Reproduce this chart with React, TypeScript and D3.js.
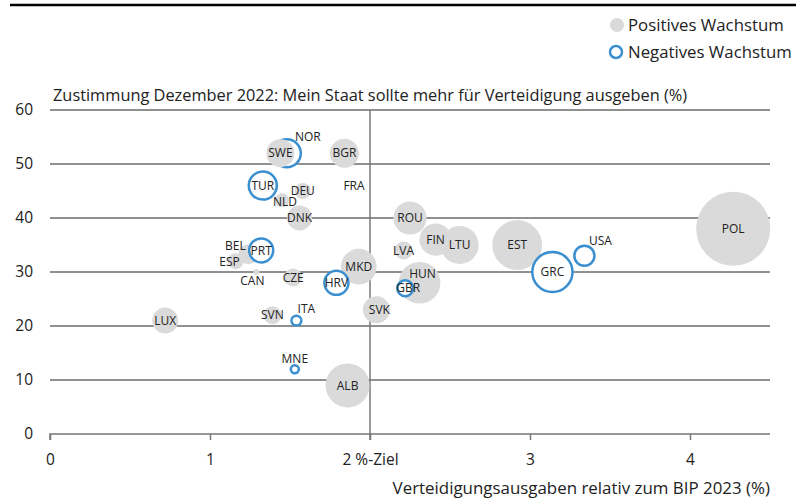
import { useEffect, useRef } from "react";
import * as d3 from "d3";

// Länder, Verteidigungsausgaben (% BIP 2023), Zustimmung (%), Wachstum (Betrag), negativ?
const countries = ["LUX", "CAN", "ESP", "BEL", "PRT", "SVN", "ITA", "MNE", "CZE", "NLD", "DEU", "DNK", "TUR", "NOR", "SWE", "BGR", "FRA", "ALB", "MKD", "HRV", "SVK", "ROU", "LVA", "HUN", "GBR", "FIN", "LTU", "EST", "GRC", "USA", "POL"];
const defenceSpending = [0.72, 1.29, 1.16, 1.24, 1.32, 1.39, 1.54, 1.53, 1.52, 1.45, 1.58, 1.56, 1.33, 1.48, 1.44, 1.84, 1.9, 1.86, 1.93, 1.79, 2.04, 2.25, 2.21, 2.31, 2.22, 2.41, 2.56, 2.92, 3.14, 3.34, 4.27];
const approval = [21, 30, 32, 33.3, 34, 22, 21, 12, 29, 43.3, 45, 40, 46, 52, 52, 52, 46, 9, 31, 28, 23, 40, 34, 28, 27, 36, 35, 35, 30, 33, 38];
const growth = [11.7, 0.6, 4.4, 7, 10, 5.6, 1.7, 1.1, 5.6, 3.4, 4.4, 10.8, 13.6, 13.6, 13.6, 14.6, 0, 33.5, 22, 10, 12.6, 19, 5.6, 30, 4.4, 18, 25, 43, 28, 7, 95];
const negative = [false, false, false, false, true, false, true, true, false, false, false, false, true, true, false, false, false, false, false, true, false, false, false, false, true, false, false, false, true, true, false];

const yTicks = [0, 10, 20, 30, 40, 50, 60];
const xTicks = [0, 1, 2, 3, 4];
const xTickLabels = ["0", "1", "2 %-Ziel", "3", "4"];

const title = "Zustimmung Dezember 2022: Mein Staat sollte mehr für Verteidigung ausgeben (%)";
const xTitle = "Verteidigungsausgaben relativ zum BIP 2023 (%)";
const legendLabels = ["Positives Wachstum", "Negatives Wachstum"];

export default function App() {
    const ref = useRef<SVGSVGElement>(null);

    useEffect(() => {
        const font = "'Open Sans', sans-serif";
        const grey = "#dadada";
        const blue = "#3a8fd0";
        const ink = "#222";

        const svg = d3.select(ref.current);
        svg.selectAll("*").remove();
        svg.style("font-family", font);

        const x = d3.scaleLinear().domain([0, 4.5]).range([50, 770]);
        const y = d3.scaleLinear().domain([0, 60]).range([434, 110]);
        const r = d3.scaleSqrt().domain([0, 100]).range([0, 38]);

        // label offsets (px) for labels not centred on their bubble
        const labelShift: Record<string, [number, number]> = {
            NOR: [21, -16], USA: [16, -15], BEL: [-13, -8], ESP: [-6, 1],
            CAN: [-4, 9], ITA: [10, -12], MNE: [0, -10], HUN: [3, -9],
            GBR: [3, 0], NLD: [3, 2], SVK: [3, 0],
        };

        const data = countries.map((c, i) => ({
            name: c,
            x: defenceSpending[i],
            y: approval[i],
            g: growth[i],
            neg: negative[i],
        }));

        // top rule
        svg.append("line")
            .attr("x1", 10).attr("x2", 796)
            .attr("y1", 5).attr("y2", 5)
            .attr("stroke", "#000").attr("stroke-width", 2.5);

        // legend
        const legend = svg.append("g");
        legend.append("circle").attr("cx", 617).attr("cy", 25).attr("r", 7).attr("fill", grey);
        legend.append("circle").attr("cx", 616).attr("cy", 52).attr("r", 6)
            .attr("fill", "#fff").attr("stroke", blue).attr("stroke-width", 2.5);
        legend.selectAll("text.leg")
            .data(legendLabels)
            .enter()
            .append("text")
            .attr("x", 628)
            .attr("y", (d, i) => 31 + i * 27)
            .attr("fill", ink)
            .style("font-size", "16.8px")
            .text(d => d);

        // title
        svg.append("text")
            .attr("x", 53).attr("y", 101)
            .attr("fill", ink)
            .style("font-size", "16.35px")
            .text(title);

        // gridlines
        svg.append("g")
            .selectAll("line")
            .data(yTicks.filter(t => t > 0))
            .enter()
            .append("line")
            .attr("x1", x(0)).attr("x2", x(4.5))
            .attr("y1", d => y(d)).attr("y2", d => y(d))
            .attr("stroke", ink).attr("stroke-width", 1);

        // y labels
        svg.append("g")
            .selectAll("text")
            .data(yTicks)
            .enter()
            .append("text")
            .attr("x", 33)
            .attr("y", d => y(d))
            .attr("dy", "0.35em")
            .attr("text-anchor", "end")
            .attr("fill", ink)
            .style("font-size", "15.5px")
            .text(d => d);

        // 2 % target line
        svg.append("line")
            .attr("x1", x(2)).attr("x2", x(2))
            .attr("y1", y(60)).attr("y2", y(0) + 6)
            .attr("stroke", "#777").attr("stroke-width", 1.5);

        // x axis
        svg.append("g")
            .attr("transform", `translate(0,${y(0)})`)
            .call(d3.axisBottom(x).tickValues(xTicks).tickSize(6).tickFormat((d, i) => xTickLabels[i]))
            .call(g => g.select(".domain").attr("stroke", "#777").attr("stroke-width", 1.5).attr("d", `M${x(0)},6V0H${x(4.5)}`))
            .call(g => g.selectAll(".tick line").attr("stroke", "#777").attr("stroke-width", 1.5))
            .call(g => g.selectAll(".tick text")
                .attr("fill", ink)
                .attr("dy", "1.4em")
                .style("font-size", "15.5px")
                .style("font-family", font));

        svg.append("text")
            .attr("x", 770).attr("y", 494)
            .attr("text-anchor", "end")
            .attr("fill", ink)
            .style("font-size", "16.9px")
            .text(xTitle);

        // bubbles
        svg.append("g")
            .selectAll("circle")
            .data(data)
            .enter()
            .append("circle")
            .attr("cx", d => x(d.x))
            .attr("cy", d => y(d.y))
            .attr("r", d => r(d.g))
            .attr("fill", d => (d.neg ? "#fff" : grey))
            .attr("stroke", d => (d.neg ? blue : "none"))
            .attr("stroke-width", 2.5);

        // labels
        svg.append("g")
            .selectAll("text")
            .data(data)
            .enter()
            .append("text")
            .attr("x", d => x(d.x) + (labelShift[d.name]?.[0] ?? 0))
            .attr("y", d => y(d.y) + (labelShift[d.name]?.[1] ?? 0))
            .attr("dy", "0.35em")
            .attr("text-anchor", "middle")
            .attr("fill", ink)
            .style("font-size", "12px")
            .text(d => d.name);
    }, []);

    return (
        <svg
            ref={ref}
            width={808}
            height={498}
            style={{ position: "absolute", left: 0, top: 0, background: "#fff" }}
        />
    );
}
